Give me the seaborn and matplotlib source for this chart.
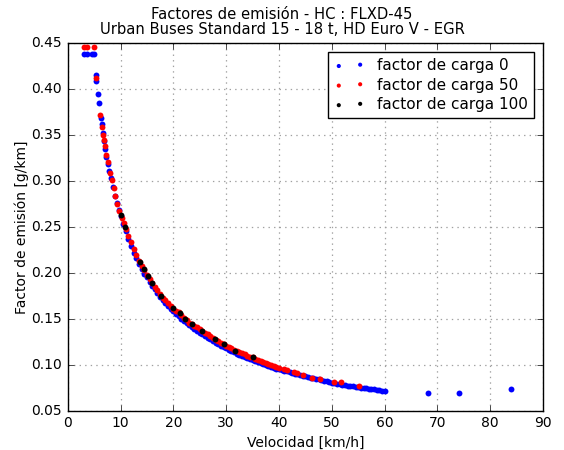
import matplotlib
matplotlib.use("Agg")
import matplotlib.pyplot as plt
import seaborn as sns
import pandas as pd

# ---- data ----
v_carga0 = [3.1, 3.6, 4.6, 5.0, 5.3, 5.4, 5.8, 6.0, 6.3, 6.5, 6.7, 6.9, 7.1, 7.3, 7.6, 7.9, 8.2, 8.6, 9.0, 9.3, 9.7,
            10.0, 10.5, 11.0, 11.5, 12.0, 12.5, 13.0, 13.5, 14.0, 14.5, 15.0, 15.5, 16.0, 16.5, 17.0, 17.5,
            18.0, 18.5, 19.0, 19.5, 20.0, 20.5, 21.0, 21.5, 22.0, 22.5, 23.0, 23.5, 24.0, 24.5, 25.0, 25.5,
            26.0, 26.5, 27.0, 27.5, 28.0, 28.5, 29.0, 29.5, 30.0, 30.5, 31.0, 31.5, 32.0, 32.5, 33.0, 33.5,
            34.0, 34.5, 35.0, 35.5, 36.0, 36.5, 37.0, 37.5, 38.0, 38.5, 39.0, 39.5, 40.0, 40.5, 41.0, 41.5,
            42.0, 42.5, 43.0, 43.5, 44.0, 44.5, 45.0, 45.5, 46.0, 46.5, 47.0, 47.5, 48.0, 48.5, 49.0, 49.5,
            50.0, 50.5, 51.0, 51.5, 52.0, 52.5, 53.0, 53.5, 54.0, 54.5, 55.0, 55.5, 56.0, 56.5, 57.0, 57.5,
            58.0, 58.5, 59.0, 59.5, 60.0, 68.2, 74.0, 84.0]
fe_carga0 = [0.4377, 0.4377, 0.4377, 0.4377, 0.415, 0.408, 0.394, 0.385, 0.368, 0.362, 0.352, 0.343, 0.334, 0.326,
             0.318, 0.311, 0.303, 0.293, 0.283, 0.276, 0.268,
             0.262, 0.253, 0.245, 0.237, 0.229, 0.222, 0.216, 0.210, 0.204, 0.199, 0.195, 0.190, 0.186, 0.182,
             0.178, 0.174, 0.170, 0.167, 0.164, 0.161, 0.158, 0.155, 0.153, 0.150, 0.148, 0.145, 0.143, 0.141,
             0.139, 0.137, 0.135, 0.133, 0.131, 0.129, 0.128, 0.126, 0.124, 0.1225, 0.121, 0.1195, 0.118, 0.1165,
             0.115, 0.1135, 0.112, 0.111, 0.110, 0.1085, 0.107, 0.106, 0.105, 0.104, 0.103, 0.102, 0.101, 0.100,
             0.099, 0.098, 0.097, 0.096, 0.095, 0.094, 0.0935, 0.0928, 0.092, 0.0912, 0.0905, 0.0898, 0.089,
             0.0882, 0.0875, 0.0868, 0.086, 0.0855, 0.085, 0.0842, 0.0835, 0.0828, 0.082, 0.0812, 0.0805, 0.080,
             0.0795, 0.079, 0.0785, 0.078, 0.0775, 0.077, 0.0765, 0.0761, 0.0757, 0.0753, 0.0749, 0.0745, 0.0741,
             0.0737, 0.0733, 0.0729, 0.0725, 0.072, 0.0716, 0.0696, 0.0696, 0.0736]

v_carga50 = [3.1, 3.6, 5.0, 5.4, 6.15, 6.5, 6.6, 6.8, 7.0, 7.3, 7.6, 8.0, 8.3, 8.7, 9.0, 9.4, 9.8, 10.2, 10.6,
             11.0, 11.5, 12.0, 12.5, 13.0, 13.5, 14.0, 14.5, 15.0, 15.5, 16.0, 16.5, 17.0, 17.5, 18.0, 18.5,
             19.0, 19.5, 20.0, 20.5, 21.0, 21.5, 22.0, 22.5, 23.0, 23.5, 24.0, 24.5, 25.0, 25.5, 26.0, 26.5,
             27.0, 27.5, 28.0, 28.5, 29.0, 29.5, 30.0, 30.5, 31.0, 31.5, 32.0, 32.5, 33.0, 33.5, 34.0, 34.5,
             35.0, 35.5, 36.0, 36.5, 37.0, 37.5, 38.0, 38.5, 39.0, 39.5, 40.0, 40.9, 41.5, 42.8, 43.5, 44.5,
             46.2, 47.8, 50.5, 51.7, 55.1]
fe_carga50 = [0.445, 0.445, 0.445, 0.412, 0.372, 0.358, 0.350, 0.344, 0.338, 0.328, 0.320, 0.309, 0.301, 0.292,
              0.284, 0.275, 0.267, 0.260, 0.254, 0.248, 0.240, 0.233, 0.226, 0.219, 0.213, 0.207, 0.203, 0.198,
              0.193, 0.189, 0.185, 0.181, 0.177, 0.173, 0.170, 0.167, 0.164, 0.161, 0.159, 0.157, 0.154, 0.151,
              0.149, 0.146, 0.144, 0.142, 0.141, 0.139, 0.137, 0.135, 0.133, 0.131, 0.129, 0.127, 0.1255, 0.124,
              0.1225, 0.121, 0.1195, 0.118, 0.1165, 0.115, 0.114, 0.113, 0.1115, 0.110, 0.109, 0.108, 0.1065,
              0.105, 0.104, 0.103, 0.102, 0.101, 0.100, 0.099, 0.098, 0.097, 0.095, 0.094, 0.0924, 0.091, 0.0895,
              0.0859, 0.0845, 0.0815, 0.0809, 0.0769]

v_carga100 = [10.1, 10.9, 13.6, 14.4, 15.2, 15.9, 17.7, 19.9, 21.3, 22.3, 23.5, 25.5, 27.8, 29.5, 31.7, 35.1]
fe_carga100 = [0.2627, 0.2493, 0.2113, 0.204, 0.1967, 0.1885, 0.175, 0.1613, 0.156, 0.1493, 0.144, 0.1366,
               0.1276, 0.123, 0.1155, 0.1085]

labels = ["factor de carga 0", "factor de carga 50", "factor de carga 100"]
colors = ["#0000ff", "#ff0000", "#000000"]

title = "Factores de emisión - HC : FLXD-45\nUrban Buses Standard 15 - 18 t, HD Euro V - EGR"
xlabel = "Velocidad [km/h]"
ylabel = "Factor de emisión [g/km]"

# ---- plot ----
plt.style.use("classic")
plt.rcParams["font.family"] = ["DejaVu Sans"]

fig = plt.figure(figsize=(5.64, 4.5), dpi=100, facecolor="white")
ax = fig.add_axes([0.12, 0.087, 0.843, 0.818])
ax.set_facecolor("white")

series = [(v_carga0, fe_carga0), (v_carga50, fe_carga50), (v_carga100, fe_carga100)]
for (vx, fy), lab, col in zip(series, labels, colors):
    df = pd.DataFrame({"v": vx, "fe": fy})
    sns.scatterplot(data=df, x="v", y="fe", ax=ax, color=col, s=18, linewidth=0,
                    marker="o", label=lab, zorder=3)

ax.set_xlim(0, 90)
ax.set_ylim(0.05, 0.45)
ax.set_xticks(range(0, 91, 10))
ax.set_yticks([0.05, 0.10, 0.15, 0.20, 0.25, 0.30, 0.35, 0.40, 0.45])
ax.set_yticklabels(["0.05", "0.10", "0.15", "0.20", "0.25", "0.30", "0.35", "0.40", "0.45"])
ax.tick_params(labelsize=10, direction="in")
ax.grid(True, linestyle=(0, (1, 3)), color="#a0a0a0", linewidth=0.9)
ax.set_axisbelow(True)
ax.set_xlabel(xlabel, fontsize=10, labelpad=4)
ax.set_ylabel(ylabel, fontsize=10, labelpad=2)

leg = ax.legend(loc="upper right", scatterpoints=2, fontsize=11, frameon=True, fancybox=False,
                markerscale=0.7, borderaxespad=0.6, labelspacing=0.3)
leg.get_frame().set_edgecolor("black")

fig.suptitle(title, fontsize=10.6, y=0.985, linespacing=1.05)

fig.savefig("out.png", dpi=100, facecolor="white")
